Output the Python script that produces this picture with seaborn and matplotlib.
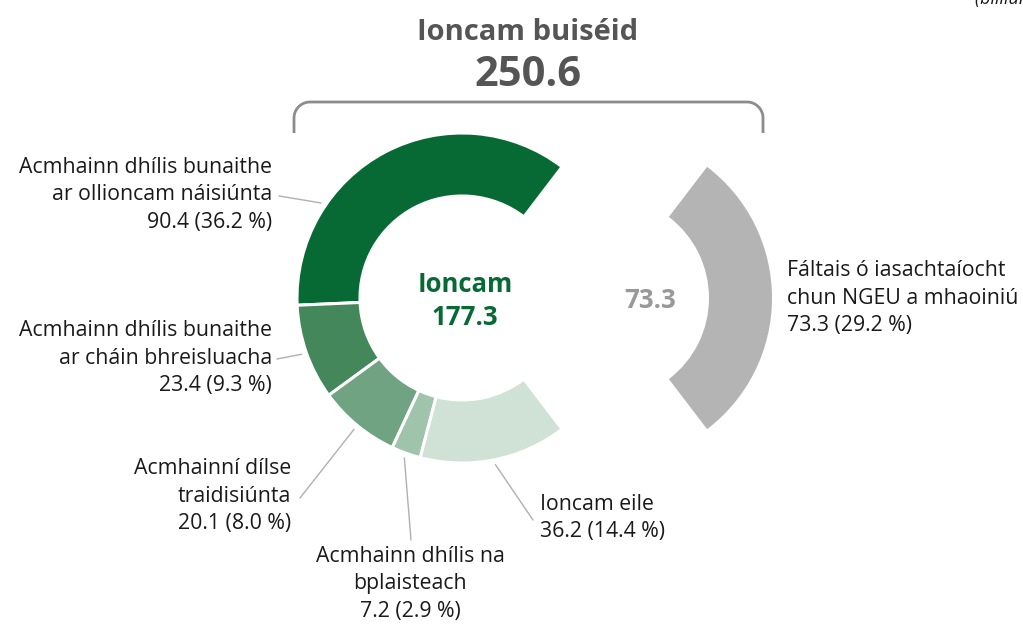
import matplotlib
matplotlib.use('Agg')

import matplotlib.pyplot as plt
import numpy as np
import seaborn as sns

sns.set_theme(style="white")
plt.rcParams['font.family'] = ['Open Sans', 'DejaVu Sans']

# data (billion euro)
labels = ["Acmhainn dhílis bunaithe\nar ollioncam náisiúnta",
          "Acmhainn dhílis bunaithe\nar cháin bhreisluacha",
          "Acmhainní dílse\ntraidisiúnta",
          "Acmhainn dhílis na\nbplaisteach",
          "Ioncam eile",
          "Fáltais ó iasachtaíocht\nchun NGEU a mhaoiniú"]
values = [90.4, 23.4, 20.1, 7.2, 36.2, 73.3]
shares = [36.2, 9.3, 8.0, 2.9, 14.4, 29.2]
colors = ["#076a34", "#43875b", "#6fa381", "#9fc3ab", "#d0e1d6", "#b4b4b4"]

total = sum(values)
income = sum(values[:5])

H = 624
fig = plt.figure(figsize=(10.23, 6.24), dpi=100)
ax = fig.add_axes([0, 0, 1, 1])

cx, cy, R, W = 462, H - 298, 165, 63
start = values[-1] / total * 180
wedges, _ = ax.pie(values, colors=colors, startangle=start, counterclock=True,
                   center=(cx, cy), radius=R, explode=[0, 0, 0, 0, 0, 145],
                   wedgeprops=dict(width=W, edgecolor="white", linewidth=2.2))
wedges[-1].set_edgecolor("none")
ax.set_xlim(0, 1023)
ax.set_ylim(0, H)
ax.set_aspect('equal')
ax.axis('off')

# label positions (pixels from top-left) and alignment
txt_pos = [(272, 195, 'right'), (272, 358, 'right'), (291, 496, 'right'),
           (410, 584, 'center'), (540, 518, 'left'), (787, 298, 'left')]
line_start = [(279, 196), (277, 359), (300, 498), (411, 540), (533, 520)]

for i, (lab, v, s) in enumerate(zip(labels, values, shares)):
    x, y, ha = txt_pos[i]
    ax.text(x, H - y, f"{lab}\n{v:.1f} ({s:.1f} %)", ha=ha, va='center',
            fontsize=15.3, color="#1a1a1a", linespacing=1.4)
    if i < 5:
        w = wedges[i]
        ang = np.deg2rad((w.theta1 + w.theta2) / 2) if i > 0 else np.deg2rad(146)
        ex, ey = cx + 170 * np.cos(ang), cy + 170 * np.sin(ang)
        sx, sy = line_start[i]
        ax.plot([sx, ex], [H - sy, ey], color="#b0b0b0", lw=1)

# centre labels
ax.text(cx + 3, H - 301, f"Ioncam\n{income:.1f}", ha='center', va='center',
        fontsize=18.5, fontweight='bold', color="#076a34", linespacing=1.3)
ax.text(650, H - 300, f"{values[-1]:.1f}", ha='center', va='center',
        fontsize=18.5, fontweight='bold', color="#999999")

# title with bracket
ax.text(528, H - 32, "Ioncam buiséid", ha='center', va='center',
        fontsize=21, fontweight='bold', color="#555555")
ax.text(528, H - 76, f"{total:.1f}", ha='center', va='center',
        fontsize=30, fontweight='bold', color="#555555")

x0, x1, yt, yb, r = 294, 763, H - 102, H - 133, 16
t = np.linspace(0, np.pi / 2, 20)
bx = np.concatenate([[x0], x0 + r - r * np.cos(t), x1 - r + r * np.sin(t), [x1]])
by = np.concatenate([[yb], yt - r + r * np.sin(t), yt - r + r * np.cos(t), [yb]])
ax.plot(bx, by, color="#8c8c8c", lw=2, solid_capstyle='butt')

ax.text(975, H - 4, "(billiún euro)", ha='left', va='baseline', fontsize=13,
        style='italic', color="#1a1a1a")

plt.savefig('out.png', dpi=100)
